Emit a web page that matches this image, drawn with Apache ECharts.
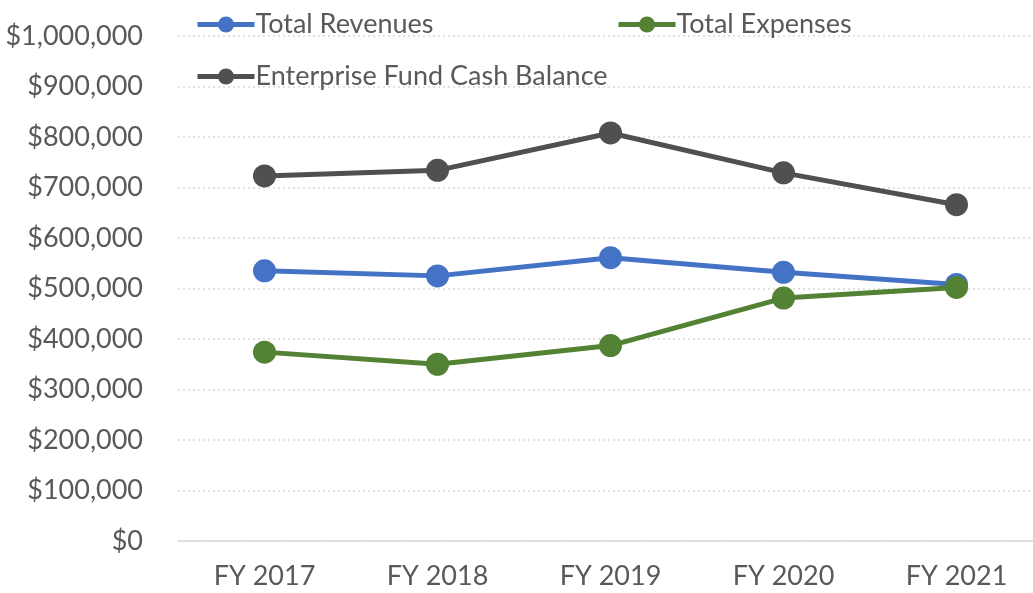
<!DOCTYPE html>
<html>
<head>
<meta charset="utf-8">
<script src="https://cdn.jsdelivr.net/npm/echarts@6/dist/echarts.min.js"></script>
<style>
  html, body { margin: 0; padding: 0; background: #fff; }
  #chart { width: 1033px; height: 593px; }
</style>
</head>
<body>
<div id="chart"></div>
<script>
// data
const years = ['FY 2017', 'FY 2018', 'FY 2019', 'FY 2020', 'FY 2021'];
const totalRevenues = [535000, 525000, 561000, 532000, 508000];
const totalExpenses = [374000, 350000, 387000, 481000, 502000];
const cashBalance = [723000, 734000, 808000, 729000, 666000];

const FONT = 'Lato';
const TEXT = '#595959';

const chart = echarts.init(document.getElementById('chart'));

const lineSeries = (name, data, color) => ({
  name,
  type: 'line',
  data,
  symbol: 'circle',
  symbolSize: 23,
  lineStyle: { color, width: 5 },
  itemStyle: { color },
  animation: false
});

const legendItem = (name, left, top) => ({
  data: [name],
  left, top,
  itemWidth: 57,
  itemHeight: 20,
  itemGap: 0,
  lineStyle: { width: 5 },
  textStyle: { fontFamily: FONT, fontSize: 27, color: TEXT, padding: [0, 0, 0, -4] }
});

chart.setOption({
  backgroundColor: '#fff',
  legend: [
    legendItem('Total Revenues', 190, 6),
    legendItem('Total Expenses', 611, 6),
    legendItem('Enterprise Fund Cash Balance', 190, 58)
  ],
  // plot runs a little past the right edge, as in the reference
  grid: { left: 178, width: 865, top: 36, bottom: 52, outerBoundsMode: 'none' },
  xAxis: {
    type: 'category',
    data: years,
    boundaryGap: true,
    axisLine: { lineStyle: { color: '#D9D9D9', width: 1.5 } },
    axisTick: { show: false },
    axisLabel: { fontFamily: FONT, fontSize: 27, color: TEXT, margin: 22 }
  },
  yAxis: {
    type: 'value',
    min: 0,
    max: 1000000,
    interval: 100000,
    axisLine: { show: false },
    axisTick: { show: false },
    splitLine: { lineStyle: { color: '#D9D9D9', type: [2, 3], width: 1.5 } },
    axisLabel: {
      fontFamily: FONT, fontSize: 27, color: TEXT, margin: 35,
      formatter: v => '$' + v.toLocaleString('en-US')
    }
  },
  series: [
    lineSeries('Total Revenues', totalRevenues, '#4472C4'),
    lineSeries('Total Expenses', totalExpenses, '#548235'),
    lineSeries('Enterprise Fund Cash Balance', cashBalance, '#505050')
  ]
});
</script>
</body>
</html>
